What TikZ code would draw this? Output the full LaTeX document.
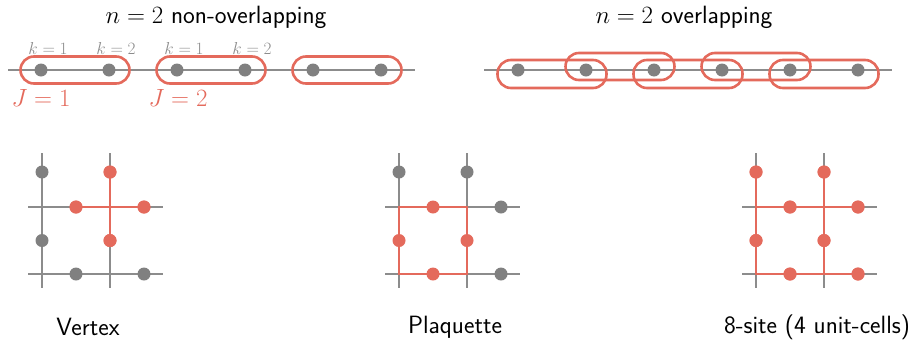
\documentclass[tikz,border=0pt]{standalone}
\usetikzlibrary{calc}
\definecolor{myred}{RGB}{228,106,92}
\definecolor{dgray}{RGB}{128,128,128}
\definecolor{lgray}{RGB}{140,140,140}
\begin{document}
\begin{tikzpicture}[x=1pt,y=-1pt,
  gdot/.style={circle,fill=dgray,inner sep=0,minimum size=13pt},
  rdot/.style={circle,fill=myred,inner sep=0,minimum size=13pt},
  gline/.style={draw=lgray,line width=2pt},
  rline/.style={draw=myred,line width=2.4pt},
  oval/.style={draw=myred,line width=2.6pt,rounded corners=13.5pt,minimum width=109pt,minimum height=27pt,inner sep=0},
  lab/.style={font=\fontsize{25}{29}\selectfont\sffamily,inner sep=0},
  klab/.style={font=\fontsize{17.5}{20}\selectfont,text=lgray,inner sep=0},
  jlab/.style={font=\fontsize{23}{26}\selectfont,text=myred,inner sep=0},
]
\useasboundingbox (0,0) rectangle (913,346);

% ---------- top left: non-overlapping ----------
\node[lab] (t1) at (216,17) {$n=2$ non-overlapping};
\coordinate (L0) at (8,70);
\coordinate (L1) at (415,70);
\draw[gline] (L0) -- (L1);
\foreach \i/\x in {1/41,2/109,3/177,4/245,5/313,6/381}{
  \node[gdot] (a\i) at (\x,70) {};
}
\node[oval] (o1) at ($(a1)!0.5!(a2)$) {};
\node[oval] (o2) at ($(a3)!0.5!(a4)$) {};
\node[oval] (o3) at ($(a5)!0.5!(a6)$) {};
\node[klab] (k1) at (48,48) {$k=1$};
\node[klab] (k2) at (116,48) {$k=2$};
\node[klab] (k3) at (184,48) {$k=1$};
\node[klab] (k4) at (252,48) {$k=2$};
\node[jlab] (j1) at (41,98) {$J=1$};
\node[jlab] (j2) at (178,98) {$J=2$};

% ---------- top right: overlapping ----------
\node[lab] (t2) at (684,17) {$n=2$ overlapping};
\coordinate (R0) at (484,70);
\coordinate (R1) at (892,70);
\draw[gline] (R0) -- (R1);
\foreach \i/\x in {1/518,2/586,3/654,4/722,5/790,6/858}{
  \node[gdot] (b\i) at (\x,70) {};
}
\node[oval,minimum height=28pt] (p1) at ($(b1)!0.5!(b2)+(0,4)$) {};
\node[oval,minimum height=28pt] (p3) at ($(b3)!0.5!(b4)+(0,4)$) {};
\node[oval,minimum height=28pt] (p5) at ($(b5)!0.5!(b6)+(0,4)$) {};
\node[oval] (p2) at ($(b2)!0.5!(b3)+(0,-3.5)$) {};
\node[oval] (p4) at ($(b4)!0.5!(b5)+(0,-3.5)$) {};

% ---------- Vertex ----------
\begin{scope}[shift={(42,207)}]
  \coordinate (va) at (0,-54);  \coordinate (vb) at (0,81);
  \coordinate (vc) at (68,-54); \coordinate (vd) at (68,81);
  \coordinate (ve) at (-14,0);  \coordinate (vf) at (121,0);
  \coordinate (vg) at (-14,67); \coordinate (vh) at (121,67);
  \draw[gline] (va) -- (vb);
  \draw[gline] (vc) -- (vd);
  \draw[gline] (ve) -- (vf);
  \draw[gline] (vg) -- (vh);
  \node[gdot] (v1) at (0,-35) {};
  \node[gdot] (v2) at (0,33.5) {};
  \node[gdot] (v3) at (34,67) {};
  \node[gdot] (v4) at (102,67) {};
  \node[rdot] (v5) at (68,-35) {};
  \node[rdot] (v6) at (68,33.5) {};
  \node[rdot] (v7) at (34,0) {};
  \node[rdot] (v8) at (102,0) {};
  \draw[rline] (v5.center) -- (v6.center);
  \draw[rline] (v7.center) -- (v8.center);
  \node[rdot] at (v5) {};
  \node[rdot] at (v6) {};
  \node[rdot] at (v7) {};
  \node[rdot] at (v8) {};
\end{scope}
\node[lab] (lv) at (88,327) {Vertex};

% ---------- Plaquette ----------
\begin{scope}[shift={(399,207)}]
  \coordinate (qa) at (0,-54);  \coordinate (qb) at (0,81);
  \coordinate (qc) at (68,-54); \coordinate (qd) at (68,81);
  \coordinate (qe) at (-14,0);  \coordinate (qf) at (121,0);
  \coordinate (qg) at (-14,67); \coordinate (qh) at (121,67);
  \draw[gline] (qa) -- (qb);
  \draw[gline] (qc) -- (qd);
  \draw[gline] (qe) -- (qf);
  \draw[gline] (qg) -- (qh);
  \coordinate (q00) at (0,0);  \coordinate (q10) at (68,0);
  \coordinate (q01) at (0,67); \coordinate (q11) at (68,67);
  \draw[rline] (q00) -- (q10) -- (q11) -- (q01) -- cycle;
  \node[gdot] (q1) at (0,-35) {};
  \node[gdot] (q2) at (68,-35) {};
  \node[gdot] (q3) at (102,0) {};
  \node[gdot] (q4) at (102,67) {};
  \node[rdot] (q5) at (34,0) {};
  \node[rdot] (q6) at (0,33.5) {};
  \node[rdot] (q7) at (68,33.5) {};
  \node[rdot] (q8) at (34,67) {};
\end{scope}
\node[lab] (lq) at (455,327) {Plaquette};

% ---------- 8-site ----------
\begin{scope}[shift={(756,207)}]
  \coordinate (sa) at (0,-54);  \coordinate (sb) at (0,81);
  \coordinate (sc) at (68,-54); \coordinate (sd) at (68,81);
  \coordinate (se) at (-14,0);  \coordinate (sf) at (121,0);
  \coordinate (sg) at (-14,67); \coordinate (sh) at (121,67);
  \draw[gline] (sa) -- (sb);
  \draw[gline] (sc) -- (sd);
  \draw[gline] (se) -- (sf);
  \draw[gline] (sg) -- (sh);
  \node[rdot] (s1) at (0,-35) {};
  \node[rdot] (s2) at (68,-35) {};
  \node[rdot] (s3) at (34,0) {};
  \node[rdot] (s4) at (102,0) {};
  \node[rdot] (s5) at (0,33.5) {};
  \node[rdot] (s6) at (68,33.5) {};
  \node[rdot] (s7) at (34,67) {};
  \node[rdot] (s8) at (102,67) {};
  \coordinate (s00) at (0,0);  \coordinate (s10) at (68,0);
  \coordinate (s01) at (0,67); \coordinate (s11) at (68,67);
  \draw[rline] (s1.center) -- (s01) -- (s8.center);
  \draw[rline] (s2.center) -- (s11);
  \draw[rline] (s00) -- (s4.center);
  \foreach \i in {1,...,8}{ \node[rdot] at (s\i) {}; }
\end{scope}
\node[lab] (ls) at (817,327) {8-site (4 unit-cells)};
\end{tikzpicture}
\end{document}
